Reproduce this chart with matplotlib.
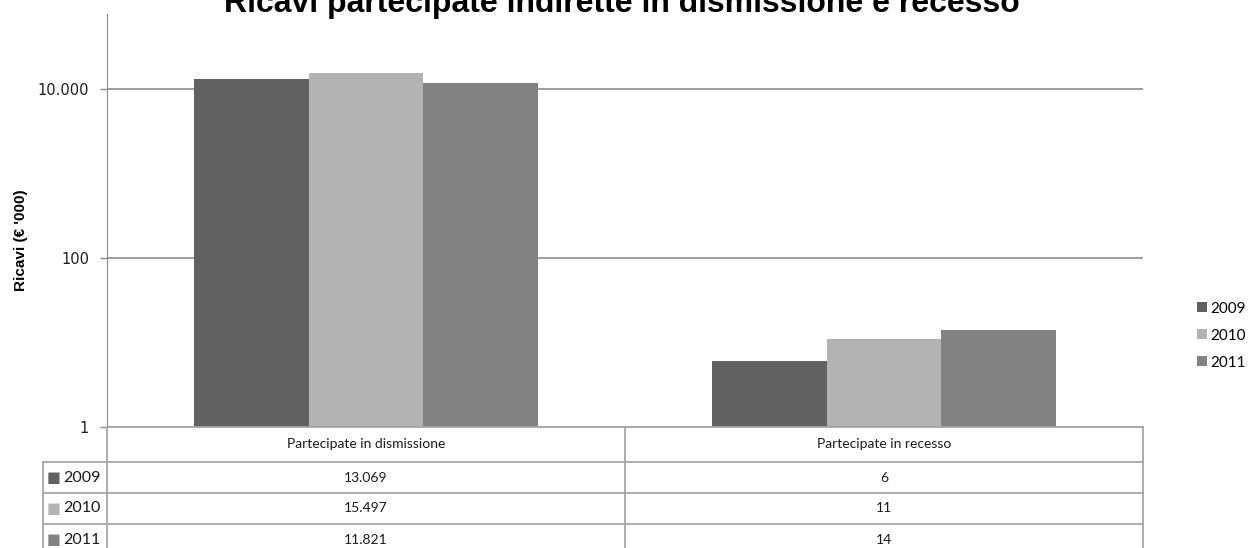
import matplotlib
matplotlib.use("Agg")
from matplotlib import pyplot as plt
import numpy as np

# data
categories = ["Partecipate in dismissione", "Partecipate in recesso"]
years = ["2009", "2010", "2011"]
ricavi_2009 = [13069, 6]
ricavi_2010 = [15497, 11]
ricavi_2011 = [11821, 14]
colors = ["#616161", "#b3b3b3", "#828282"]

series = [ricavi_2009, ricavi_2010, ricavi_2011]


def fmt_it(v):
    return f"{v:,}".replace(",", ".")


W, H = 1254, 548
AX_L, AX_R, AX_B, AX_T = 107, 1143, 427, 14

fig = plt.figure(figsize=(W / 100, H / 100), dpi=100)
ax = fig.add_axes([AX_L / W, 1 - AX_B / H, (AX_R - AX_L) / W, (AX_B - AX_T) / H])

x = np.arange(len(categories))
bw = 0.222
for i, (vals, c) in enumerate(zip(series, colors)):
    ax.bar(x + (i - 1) * bw, vals, bw, color=c, label=years[i], zorder=3)

ax.set_yscale("log")
ax.set_ylim(1, 10 ** 4.888)
ax.set_xlim(-0.5, len(categories) - 0.5)
ax.set_yticks([1, 100, 10000])
ax.set_yticklabels(["1", "100", "10.000"], fontsize=10.5, family="DejaVu Sans", color="#1f1f1f")
ax.yaxis.set_minor_locator(matplotlib.ticker.NullLocator())
ax.set_xticks([])
ax.tick_params(axis="y", length=5, color="#8c8c8c", width=1, pad=8)
ax.grid(axis="y", color="#8c8c8c", linewidth=1.2, zorder=0)
for s in ["top", "right", "bottom"]:
    ax.spines[s].set_visible(False)
ax.spines["left"].set_color("#8c8c8c")

fig.text(21 / W, 1 - 240 / H, "Ricavi (€ '000)", rotation=90, ha="center", va="center",
         fontsize=11, fontweight="bold", family="Liberation Sans")

fig.text(622 / W, 1 - 12 / H, "Ricavi partecipate indirette in dismissione e recesso",
         ha="center", va="baseline", fontsize=23, fontweight="bold", family="Liberation Sans")

# data table under the axis, drawn in pixel positions converted to axes fractions
def ax_x(px):
    return (px - AX_L) / (AX_R - AX_L)


def ax_y(py):
    return (AX_B - py) / (AX_B - AX_T)


tfont = ["Lato", "DejaVu Sans"]
line_kw = dict(color="#a6a6a6", linewidth=1.3, transform=ax.transAxes, clip_on=False, zorder=4)
col_edges = [AX_L, 625, AX_R]
row_edges = [AX_B, 462, 493, 524, 560]
label_left = 43

# horizontal lines
ax.plot([ax_x(AX_L), ax_x(AX_R)], [ax_y(AX_B)] * 2, **line_kw)
for ry in row_edges[1:-1]:
    ax.plot([ax_x(label_left), ax_x(AX_R)], [ax_y(ry)] * 2, **line_kw)
# vertical lines
for cx in col_edges:
    ax.plot([ax_x(cx)] * 2, [ax_y(AX_B), ax_y(row_edges[-1])], **line_kw)
ax.plot([ax_x(label_left)] * 2, [ax_y(row_edges[1]), ax_y(row_edges[-1])], **line_kw)

text_kw = dict(transform=ax.transAxes, clip_on=False, family=tfont, fontsize=10, color="#1a1a1a")
for j, cat in enumerate(categories):
    cx = (col_edges[j] + col_edges[j + 1]) / 2
    ax.text(ax_x(cx), ax_y((row_edges[0] + row_edges[1]) / 2), cat, ha="center", va="center", **text_kw)
    for i, vals in enumerate(series):
        cy = (row_edges[i + 1] + row_edges[i + 2]) / 2 if i < 2 else 540
        ax.text(ax_x(cx), ax_y(cy), fmt_it(vals[j]), ha="center", va="center", **text_kw)

for i, (yr, c) in enumerate(zip(years, colors)):
    cy = (row_edges[i + 1] + row_edges[i + 2]) / 2 if i < 2 else 540
    ax.text(ax_x(47), ax_y(cy), "■", color=c, fontsize=10.5, ha="left", va="center",
            transform=ax.transAxes, clip_on=False, family="DejaVu Sans")
    ax.text(ax_x(63), ax_y(cy), yr, ha="left", va="center", **{**text_kw, "fontsize": 11.5})

leg = ax.legend(loc="upper left", bbox_to_anchor=(1183 / W, 1 - 288 / H),
                bbox_transform=fig.transFigure, frameon=False, prop={"family": tfont, "size": 11},
                handlelength=0.65, handleheight=0.65, handletextpad=0.25, labelspacing=0.85)

fig.savefig("out.png", dpi=100)
